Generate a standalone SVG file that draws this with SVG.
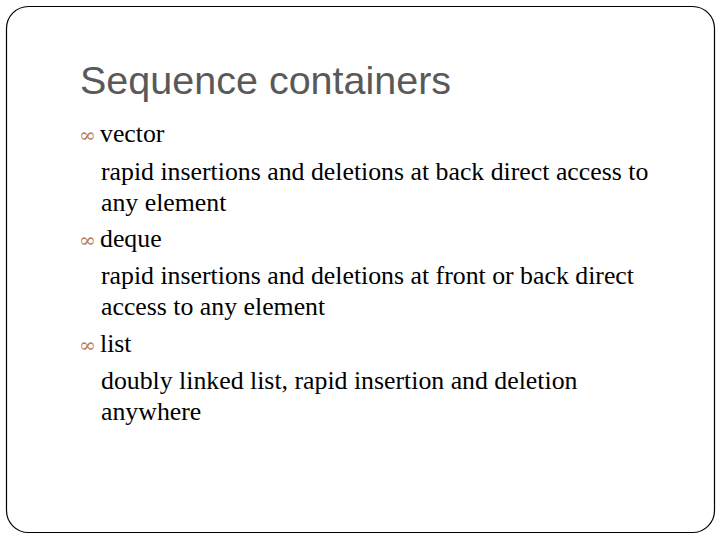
<svg xmlns="http://www.w3.org/2000/svg" width="720" height="540" viewBox="0 0 720 540">
<style>
.t{font-family:"Liberation Serif",serif;font-size:25.8px;fill:#000}
.b{font-family:"DejaVu Serif",serif;font-size:20px;fill:#b87c5a}
</style>
<rect width="720" height="540" fill="#fff"/>
<rect x="6.5" y="6.5" width="708" height="526" rx="22" fill="none" stroke="#000" stroke-width="1.2"/>
<text x="80" y="94" font-family="Liberation Sans,sans-serif" font-size="39.5" fill="#595959">Sequence containers</text>
<g id="vector">
<text class="b" x="79" y="142">∞</text>
<text class="t" x="100" y="142">vector</text>
<text class="t" x="101" y="180">rapid insertions and deletions at back direct access to</text>
<text class="t" x="101" y="211">any element</text>
</g>
<g id="deque">
<text class="b" x="79" y="247">∞</text>
<text class="t" x="100" y="247">deque</text>
<text class="t" x="101" y="284">rapid insertions and deletions at front or back direct</text>
<text class="t" x="101" y="315">access to any element</text>
</g>
<g id="list">
<text class="b" x="79" y="352">∞</text>
<text class="t" x="100" y="352">list</text>
<text class="t" x="101" y="389">doubly linked list, rapid insertion and deletion</text>
<text class="t" x="101" y="420">anywhere</text>
</g>
</svg>
